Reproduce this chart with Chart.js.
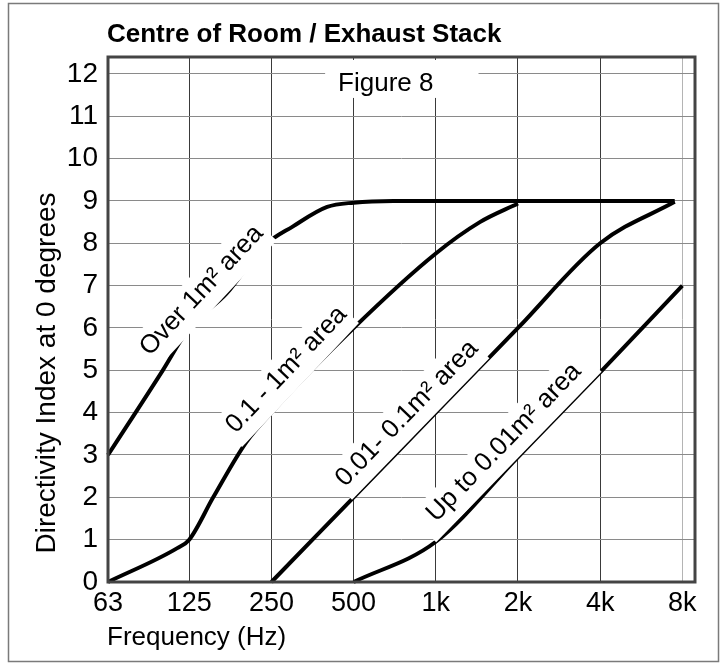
<!DOCTYPE html>
<html>
<head>
<meta charset="utf-8">
<script src="https://cdn.jsdelivr.net/npm/chart.js@4.4.1/dist/chart.umd.min.js"></script>
<style>
  html, body { margin: 0; padding: 0; background: #ffffff; }
  canvas { display: block; }
</style>
</head>
<body>
<canvas id="chart" width="726" height="663"></canvas>
<script>
// Octave-band tick positions (Hz) and their printed labels
const frequencies = [63, 125, 250, 500, 1000, 2000, 4000, 8000];
const frequencyLabels = ['63', '125', '250', '500', '1k', '2k', '4k', '8k'];
const directivityTicks = [0, 1, 2, 3, 4, 5, 6, 7, 8, 9, 10, 11, 12];

// Over 1 m² opening
const over1Freq = [63, 100, 125, 171, 235, 300, 400, 500, 700, 1000, 2000, 4000, 7500];
const over1DI   = [3, 5.0, 6.0, 6.81, 7.94, 8.4, 8.86, 8.96, 9.0, 9.0, 9.0, 9.0, 9.0];

// 0.1 - 1 m² opening
const mid1Freq = [63, 113, 125, 153, 202, 250, 500, 1000, 1450, 2000];
const mid1DI   = [0, 0.8, 1.0, 2.0, 3.3, 4.0, 6.0, 7.76, 8.5, 8.94];

// 0.01 - 0.1 m² opening
const mid2Freq = [250, 500, 1000, 2000, 4000, 7500];
const mid2DI   = [0, 2, 4, 6, 8, 8.98];

// Up to 0.01 m² opening
const smallFreq = [500, 1000, 2000, 4000, 8000];
const smallDI   = [0, 0.95, 2.95, 4.95, 7.0];

// Curve captions: text runs along the line from -> to (data units)
const curveLabels = [
  { text: 'Over 1m² area',     from: [97, 5.11],   to: [171, 6.81],  start: 0,  padL: 3, padR: 4 },
  { text: '0.1 - 1m² area',    from: [198, 3.25],  to: [500, 6.0],   start: 2,  padL: 3, padR: 2 },
  { text: '0.01- 0.1m² area',  from: [492, 1.95],  to: [4000, 8.0],  start: 4,  padL: 0, padR: 1 },
  { text: 'Up to 0.01m² area', from: [1000, 0.95], to: [4000, 4.95], start: 14, padL: 0, padR: 14 }
];

const FONT = '"Liberation Sans", Arial, Helvetica, sans-serif';

function series(freq, di) {
  return freq.map((f, i) => ({ x: f, y: di[i] }));
}

function curve(freq, di) {
  return {
    data: series(freq, di),
    borderColor: '#000000',
    borderWidth: 4,
    borderCapStyle: 'butt',
    borderJoinStyle: 'round',
    pointRadius: 0,
    fill: false,
    cubicInterpolationMode: 'monotone',
    clip: false
  };
}

const decor = {
  id: 'decor',
  beforeDraw(chart) {
    const ctx = chart.ctx;
    const area = chart.chartArea;
    ctx.save();
    ctx.fillStyle = '#ffffff';
    ctx.fillRect(0, 0, chart.width, chart.height);

    // outer frame
    ctx.strokeStyle = '#7a7a7a';
    ctx.lineWidth = 1.5;
    ctx.strokeRect(8.5, 3.5, 710, 658);

    // heading
    ctx.fillStyle = '#000000';
    ctx.font = 'bold 26px ' + FONT;
    ctx.textAlign = 'left';
    ctx.textBaseline = 'alphabetic';
    ctx.fillText('Centre of Room / Exhaust Stack', area.left - 1, 42);

    // x axis title
    ctx.font = '26px ' + FONT;
    ctx.fillText('Frequency (Hz)', area.left - 1, area.bottom + 63);

    // y axis title
    ctx.font = '28px ' + FONT;
    ctx.translate(55, area.bottom - 209);
    ctx.rotate(-Math.PI / 2);
    ctx.textAlign = 'center';
    ctx.fillText('Directivity Index at 0 degrees', 0, 0);
    ctx.restore();
  },
  beforeDatasetsDraw(chart) {
    const ctx = chart.ctx;
    const xs = chart.scales.x, ys = chart.scales.y;
    ctx.save();
    ctx.font = '26px ' + FONT;
    const txt = 'Figure 8';
    const w = ctx.measureText(txt).width;
    const cx = xs.getPixelForValue(656);
    const gy = ys.getPixelForValue(12);
    ctx.fillStyle = '#ffffff';
    ctx.fillRect(cx - w / 2 - 13, gy - 14, w + 58, 38);
    ctx.fillStyle = '#000000';
    ctx.textAlign = 'center';
    ctx.textBaseline = 'alphabetic';
    ctx.fillText(txt, cx, gy + 17);
    ctx.restore();
  },
  afterDatasetsDraw(chart) {
    const ctx = chart.ctx;
    const area = chart.chartArea;
    const xs = chart.scales.x, ys = chart.scales.y;
    ctx.save();

    // plot frame
    ctx.strokeStyle = '#444444';
    ctx.lineWidth = 3;
    ctx.strokeRect(area.left, area.top, area.right - area.left, area.bottom - area.top);

    // captions sitting on the curves
    ctx.font = '26px ' + FONT;
    const lift = 13;
    const boxTop = 38;
    curveLabels.forEach(lb => {
      const x0 = xs.getPixelForValue(lb.from[0]), y0 = ys.getPixelForValue(lb.from[1]);
      const x1 = xs.getPixelForValue(lb.to[0]),   y1 = ys.getPixelForValue(lb.to[1]);
      const ang = Math.atan2(y1 - y0, x1 - x0);
      const w = ctx.measureText(lb.text).width;
      ctx.save();
      ctx.translate(x0, y0);
      ctx.rotate(ang);
      ctx.fillStyle = '#ffffff';
      ctx.fillRect(-lb.padL, -boxTop, lb.start + w + lb.padR + lb.padL, boxTop + 0.5);
      ctx.fillStyle = '#000000';
      ctx.textAlign = 'left';
      ctx.textBaseline = 'alphabetic';
      ctx.fillText(lb.text, lb.start, -lift);
      ctx.restore();
    });
    ctx.restore();
  }
};

new Chart(document.getElementById('chart'), {
  type: 'line',
  data: {
    datasets: [
      curve(over1Freq, over1DI),
      curve(mid1Freq, mid1DI),
      curve(mid2Freq, mid2DI),
      curve(smallFreq, smallDI)
    ]
  },
  options: {
    responsive: false,
    animation: false,
    devicePixelRatio: 1,
    events: [],
    layout: { padding: { top: 57, right: 31, bottom: 0, left: 0 } },
    plugins: {
      legend: { display: false },
      tooltip: { enabled: false },
      title: { display: false }
    },
    scales: {
      x: {
        type: 'logarithmic',
        min: 63,
        max: 8900,
        afterBuildTicks(scale) {
          scale.ticks = frequencies.map(v => ({ value: v }));
        },
        afterFit(scale) { scale.height = 81; },
        ticks: {
          autoSkip: false,
          maxRotation: 0,
          minRotation: 0,
          padding: 5,
          color: '#000000',
          font: { family: FONT, size: 27 },
          callback(value, index) { return frequencyLabels[index]; }
        },
        grid: {
          drawTicks: false,
          lineWidth: 1,
          color(ctx) {
            return ctx.tick && ctx.tick.value === 8000 ? '#b4b4b4' : '#3a3a3a';
          }
        },
        border: { display: false }
      },
      y: {
        type: 'linear',
        min: 0,
        max: 12.4,
        afterBuildTicks(scale) {
          scale.ticks = directivityTicks.map(v => ({ value: v }));
        },
        afterFit(scale) { scale.width = 108; },
        ticks: {
          padding: 10,
          color: '#000000',
          font: { family: FONT, size: 28 },
          callback(value) { return String(value); }
        },
        grid: {
          drawTicks: false,
          lineWidth: 1,
          color: '#8a8a8a'
        },
        border: { display: false }
      }
    }
  },
  plugins: [decor]
});
</script>
</body>
</html>
